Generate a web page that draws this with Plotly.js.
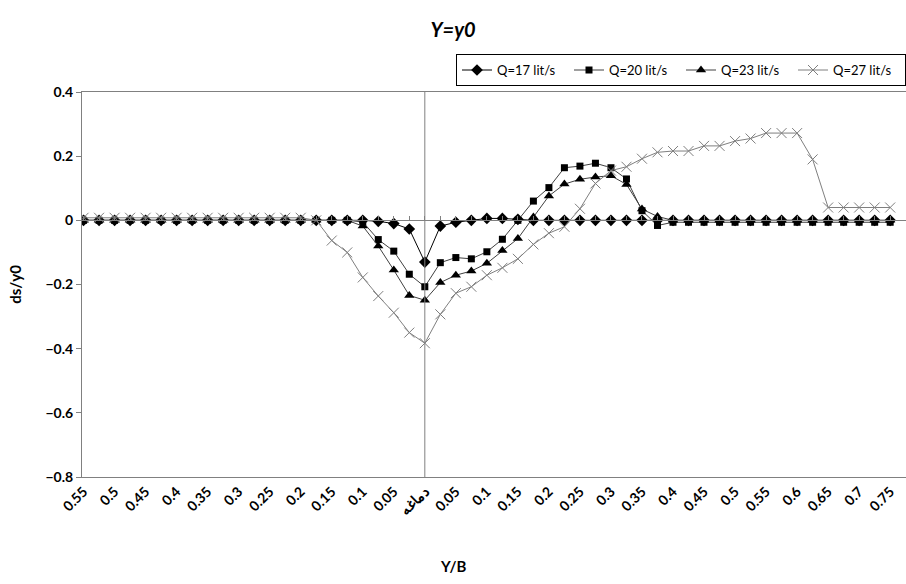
<!DOCTYPE html>
<html>
<head>
<meta charset="utf-8">
<script src="https://cdn.plot.ly/plotly-3.0.1.min.js"></script>
<style>
html,body{margin:0;padding:0;background:#fff;overflow:hidden;}
#chart{width:906px;height:584px;}
</style>
</head>
<body>
<div id="chart"></div>
<script>
// Position labels along the section (left side, nose, right side)
const xLabels = [
  "0.55","0.525","0.5","0.475","0.45","0.425","0.4","0.375","0.35","0.325",
  "0.3","0.275","0.25","0.225","0.2","0.175","0.15","0.125","0.1","0.075",
  "0.05","0.025","دماغه","0.025","0.05","0.075","0.1","0.125","0.15","0.175",
  "0.2","0.225","0.25","0.275","0.3","0.325","0.35","0.375","0.4","0.425",
  "0.45","0.475","0.5","0.525","0.55","0.575","0.6","0.625","0.65","0.675",
  "0.7","0.725","0.75"
];
const noseLabel = "دماغه";

const seriesNames = ["Q=17 lit/s","Q=20 lit/s","Q=23 lit/s","Q=27 lit/s"];

const q17 = [
  0,0,0,0,0,0,0,0,0,0,
  0,0,0,0,0,0,0,0,0,-0.003,
  -0.01,-0.027,-0.13,-0.018,-0.006,0,0.006,0.006,0.003,0,
  0,0,0,0,0,0,0,0,0,0,
  0,0,0,0,0,0,0,0,0,0,
  0,0,0
];
const q20 = [
  0,0,0,0,0,0,0,0,0,0,
  0,0,0,0,0,0,0,0,-0.005,-0.06,
  -0.096,-0.168,-0.207,-0.132,-0.116,-0.12,-0.098,-0.059,0.0,0.06,
  0.102,0.164,0.169,0.178,0.164,0.129,0.03,-0.016,-0.006,-0.006,
  -0.006,-0.006,-0.006,-0.006,-0.006,-0.006,-0.006,-0.006,-0.006,-0.006,
  -0.006,-0.006,-0.006
];
const q23 = [
  0,0,0,0,0,0,0,0,0,0,
  0,0,0,0,0,0,0,0,-0.018,-0.08,
  -0.155,-0.234,-0.249,-0.194,-0.171,-0.158,-0.134,-0.094,-0.057,0.01,
  0.076,0.113,0.128,0.135,0.139,0.112,0.035,0.012,0,0,
  0,0,0,0,0,0,0,0,0,0,
  0,0,0
];
const q27 = [
  0.008,0.008,0.008,0.008,0.008,0.008,0.008,0.008,0.008,0.008,
  0.008,0.008,0.008,0.008,0.008,0,-0.063,-0.10,-0.178,-0.236,
  -0.288,-0.35,-0.383,-0.293,-0.227,-0.207,-0.171,-0.148,-0.12,-0.075,
  -0.04,-0.02,0.036,0.115,0.155,0.167,0.192,0.212,0.216,0.216,
  0.232,0.232,0.247,0.255,0.272,0.272,0.272,0.19,0.04,0.04,
  0.04,0.04,0.04
];

const xIdx = xLabels.map((_, i) => i);
const tickIdx = xIdx.filter(i => i % 2 === 0);
const tickText = tickIdx.map(i => xLabels[i]);
const noseIdx = xLabels.indexOf(noseLabel);

const styles = [
  {line:"#000000", marker:{symbol:"diamond", size:9, color:"#000000"}},
  {line:"#404040", marker:{symbol:"square", size:7, color:"#000000"}},
  {line:"#404040", marker:{symbol:"triangle-up", size:9, color:"#000000"}},
  {line:"#7f7f7f", marker:{symbol:"x-thin-open", size:10, color:"#7f7f7f", line:{width:1, color:"#7f7f7f"}}}
];
const allY = [q17, q20, q23, q27];

const traces = allY.map((ys, k) => ({
  type: "scatter",
  mode: "lines+markers",
  name: seriesNames[k],
  x: xIdx,
  y: ys,
  line: {color: styles[k].line, width: 1},
  marker: styles[k].marker,
  cliponaxis: true
}));

const fontFam = "Lato, 'Open Sans', sans-serif";
const axisFont = {family: fontFam, size: 14, color: "#000", weight: "bold"};

const layout = {
  width: 906,
  height: 584,
  margin: {l: 82, r: 0, t: 92, b: 107, autoexpand: false},
  paper_bgcolor: "#fff",
  plot_bgcolor: "#fff",
  showlegend: true,
  title: {
    text: "<b><i>Y=y0</i></b>",
    font: {family: fontFam, size: 20, color: "#000"},
    x: 0.5, xref: "container", xanchor: "center",
    y: 0.948, yref: "container", yanchor: "middle"
  },
  legend: {
    orientation: "h",
    x: 1.0, xanchor: "right",
    y: 1.057, yanchor: "middle",
    bgcolor: "#fff",
    bordercolor: "#000",
    borderwidth: 1,
    font: {family: fontFam, size: 13, color: "#000"},
    entrywidth: 67,
    entrywidthmode: "pixels",
    itemwidth: 30,
    tracegroupgap: 0
  },
  xaxis: {
    range: [-0.1, 53.02],
    showgrid: false,
    zeroline: false,
    showline: true,
    linecolor: "#808080",
    linewidth: 1,
    mirror: true,
    ticks: "",
    tickmode: "array",
    tickvals: tickIdx,
    ticktext: tickText,
    tickangle: -45,
    tickfont: axisFont
  },
  xaxis2: {
    overlaying: "x",
    anchor: "free",
    position: 0.8 / 1.2,
    range: [-0.1, 53.02],
    showgrid: false,
    zeroline: false,
    showline: true,
    linecolor: "#808080",
    linewidth: 1,
    ticks: "inside",
    ticklen: 4,
    tickcolor: "#808080",
    tickmode: "linear",
    tick0: 0,
    dtick: 1,
    showticklabels: false
  },
  yaxis: {
    range: [-0.8, 0.4],
    showgrid: false,
    zeroline: false,
    showline: true,
    linecolor: "#808080",
    linewidth: 1,
    ticks: "outside",
    ticklen: 5,
    tickcolor: "#808080",
    tickmode: "linear",
    tick0: 0,
    dtick: 0.2,
    tickfont: axisFont,
    title: {text: "<b>ds/y0</b>", font: {family: fontFam, size: 15, color: "#000"}, standoff: 20}
  },
  shapes: [{
    type: "line", xref: "x", yref: "paper",
    x0: noseIdx, x1: noseIdx, y0: 0, y1: 1,
    line: {color: "#808080", width: 1}
  }],
  annotations: [{
    text: "<b>Y/B</b>",
    xref: "paper", yref: "paper",
    x: (453 - 82) / 824, y: -0.23,
    xanchor: "center", yanchor: "middle",
    showarrow: false,
    font: {family: fontFam, size: 15, color: "#000"}
  }]
};

// dummy trace to activate xaxis2
traces.push({type:"scatter", x:[0], y:[null], xaxis:"x2", showlegend:false, hoverinfo:"skip"});

Plotly.newPlot("chart", traces, layout, {displayModeBar: false, staticPlot: true});
</script>
</body>
</html>
